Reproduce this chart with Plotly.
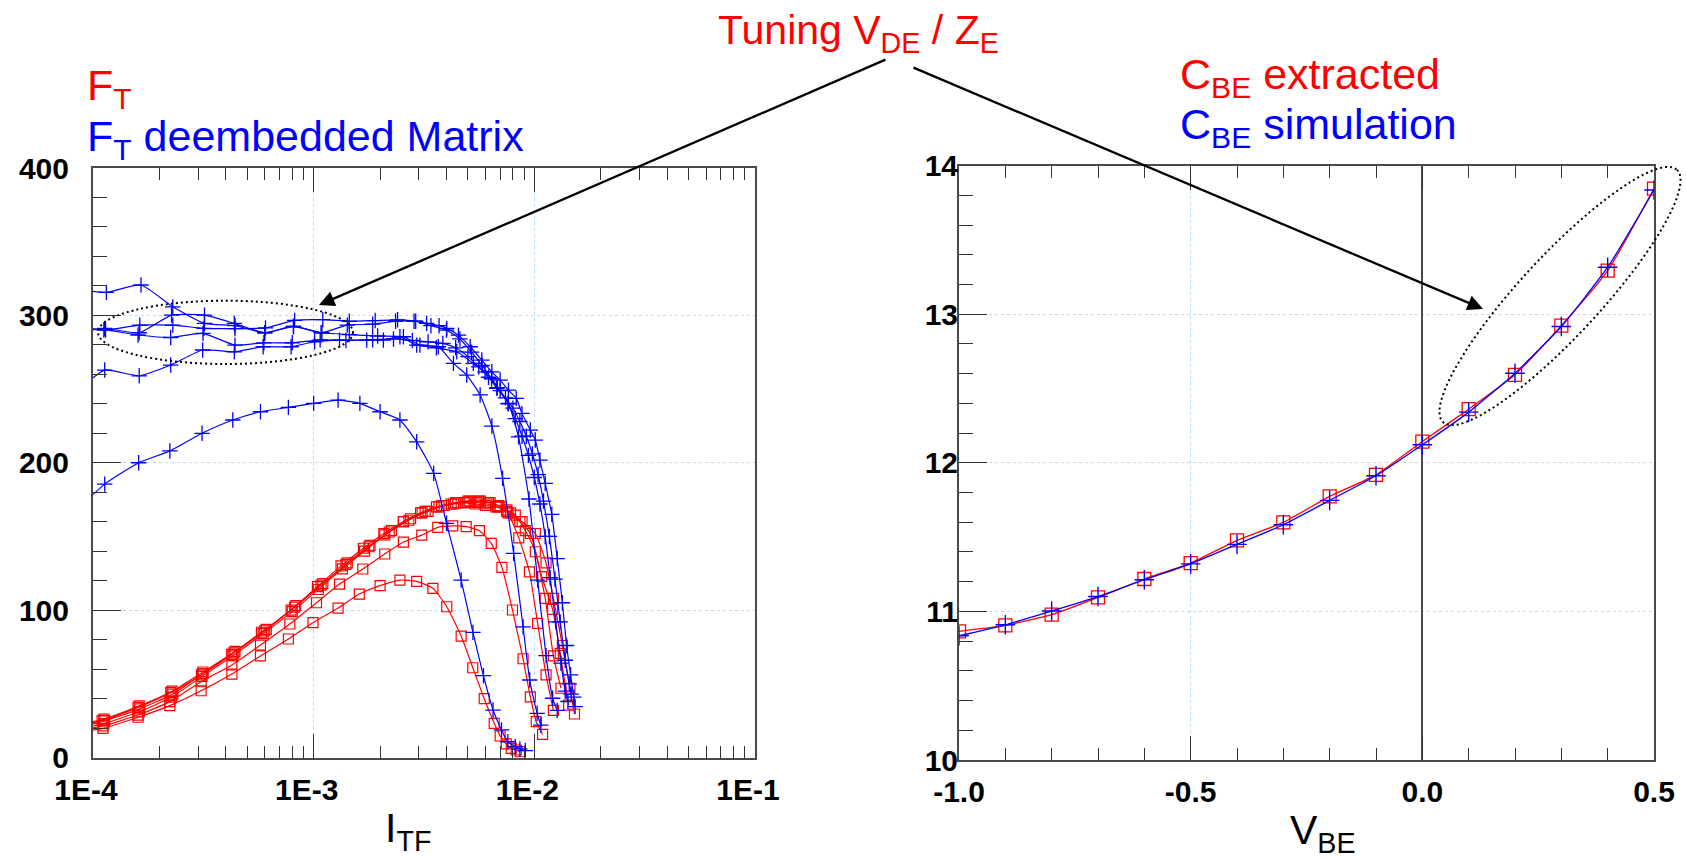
import numpy as np
import plotly.graph_objects as go

W, H = 1686, 858

# ---------------- Left panel: F_T vs I_TF ----------------
R1_I = [9.0e-5, 1.11e-4, 1.6e-4, 2.23e-4, 3.09e-4, 4.26e-4, 5.74e-4, 7.68e-4, 9.93e-4, 1.29e-3, 1.61e-3, 2.0e-3,
        2.46e-3, 2.93e-3, 3.47e-3, 4.01e-3, 4.66e-3, 5.26e-3, 5.93e-3, 6.58e-3, 7.0e-3, 7.46e-3, 7.86e-3, 8.28e-3, 8.63e-3]
R1_F = [17.5, 19.8, 27.3, 35.2, 45.3, 56.6, 68.9, 80.4, 91.5, 101.4, 110.9, 116.6,
        120.4, 119.5, 114.8, 102.3, 82.4, 60.9, 39.9, 23.2, 14.6, 9.2, 6.2, 5.1, 3.9]
R2_I = [9.0e-5, 1.11e-4, 1.6e-4, 2.23e-4, 3.09e-4, 4.26e-4, 5.74e-4, 7.8e-4, 1.03e-3, 1.31e-3, 1.67e-3, 2.1e-3,
        2.55e-3, 3.09e-3, 3.65e-3, 4.27e-3, 4.91e-3, 5.64e-3, 6.38e-3, 7.13e-3, 7.96e-3, 8.89e-3, 9.59e-3, 1.02e-2, 1.09e-2]
R2_F = [19, 21.4, 28.8, 37.9, 51.4, 62.8, 76.3, 90.6, 105, 117.7, 127.9, 138.1,
        146.2, 150.9, 156.2, 157.1, 156.6, 153.9, 145.3, 129, 100.1, 67, 41.2, 24.3, 15.7]
R3_I = [9.0e-5, 1.12e-4, 1.62e-4, 2.27e-4, 3.12e-4, 4.3e-4, 5.9e-4, 8.0e-4, 1.05e-3, 1.35e-3, 1.7e-3, 2.1e-3, 2.55e-3,
        3.05e-3, 3.6e-3, 4.2e-3, 4.8e-3, 5.4e-3, 6.0e-3, 6.7e-3, 7.5e-3, 8.5e-3, 9.5e-3, 1.035e-2, 1.13e-2, 1.22e-2]
R3_F = [20, 23, 31, 41, 55, 69, 84, 99, 114, 128, 140, 151, 160,
        166, 170, 172, 173, 172, 171, 170, 167, 149, 126, 91, 56, 32]
R4_I = [9.0e-5, 1.13e-4, 1.63e-4, 2.3e-4, 3.15e-4, 4.35e-4, 6.0e-4, 8.2e-4, 1.08e-3, 1.4e-3, 1.78e-3, 2.2e-3, 2.7e-3,
        3.2e-3, 3.8e-3, 4.4e-3, 5.0e-3, 5.6e-3, 6.2e-3, 6.9e-3, 7.5e-3, 8.2e-3, 9.1e-3, 1.01e-2, 1.12e-2, 1.22e-2, 1.32e-2]
R4_F = [21, 25, 33, 43, 57, 71, 86, 102, 117, 131, 143, 153, 161,
        167, 171, 173, 174, 174, 173, 171, 168, 164.5, 154, 139.6, 108, 68.9, 47]
R5_I = [9.0e-5, 1.1e-4, 1.6e-4, 2.25e-4, 3.1e-4, 4.25e-4, 5.8e-4, 7.9e-4, 1.04e-3, 1.33e-3, 1.68e-3, 2.08e-3, 2.55e-3,
        3.1e-3, 3.7e-3, 4.3e-3, 4.9e-3, 5.5e-3, 6.1e-3, 6.8e-3, 7.6e-3, 8.6e-3, 9.6e-3, 1.08e-2, 1.21e-2, 1.31e-2, 1.43e-2]
R5_F = [22, 25, 34, 44, 56, 70, 85, 100, 116, 130, 142, 152, 160,
        166, 170, 172, 173, 173, 172, 170, 166, 160, 152, 122.7, 100.5, 70.7, 35.6]
R6_I = [9.0e-5, 1.12e-4, 1.62e-4, 2.28e-4, 3.15e-4, 4.4e-4, 6.1e-4, 8.3e-4, 1.1e-3, 1.42e-3, 1.8e-3, 2.25e-3, 2.75e-3,
        3.3e-3, 3.9e-3, 4.5e-3, 5.1e-3, 5.7e-3, 6.3e-3, 7.0e-3, 7.8e-3, 8.8e-3, 1.01e-2, 1.13e-2, 1.22e-2, 1.34e-2, 1.45e-2, 1.52e-2]
R6_F = [23, 26, 35, 45, 58, 72, 87, 103, 118, 132, 144, 154, 162,
        167, 171, 173, 174, 174, 173, 170, 166, 160, 152, 132, 108, 76, 47, 29.5]

B1_I = [9.0e-5, 1.13e-4, 1.61e-4, 2.23e-4, 3.12e-4, 4.3e-4, 5.74e-4, 7.68e-4, 1.0e-3, 1.29e-3, 1.62e-3, 2.0e-3, 2.46e-3,
        2.93e-3, 3.5e-3, 4.0e-3, 4.66e-3, 5.27e-3, 5.88e-3, 6.5e-3, 7.1e-3, 7.58e-3, 8.2e-3, 8.6e-3, 9.1e-3]
B1_F = [172, 185.5, 200, 208, 220, 229, 234.6, 237.6, 240.3, 242.5, 240.3, 234.6, 229,
        214.2, 192.8, 158.9, 120.4, 84.9, 55.5, 32.2, 18.7, 10.7, 7.3, 5.8, 4.6]
B2_I = [9.0e-5, 1.15e-4, 1.65e-4, 2.3e-4, 3.2e-4, 4.4e-4, 6.0e-4, 8.1e-4, 1.09e-3, 1.45e-3, 1.95e-3, 2.55e-3, 3.03e-3,
        3.67e-3, 4.3e-3, 4.94e-3, 5.68e-3, 6.42e-3, 7.18e-3, 8.06e-3, 8.89e-3, 9.53e-3, 1.03e-2, 1.07e-2]
B2_F = [317, 315.6, 320.6, 305.8, 294.6, 293, 288.2, 292.3, 288.2, 287, 286, 285.5, 279.8,
        278.7, 267.4, 259.5, 246, 224.9, 189.4, 138.5, 88.7, 52.6, 30, 22]
B3_I = [9.0e-5, 1.13e-4, 1.62e-4, 2.25e-4, 3.14e-4, 4.37e-4, 5.9e-4, 7.9e-4, 1.01e-3, 1.31e-3, 1.74e-3, 2.07e-3, 2.46e-3,
        2.93e-3, 3.6e-3, 4.45e-3, 5.29e-3, 5.98e-3, 6.76e-3, 7.63e-3, 8.48e-3, 9.46e-3, 1.035e-2, 1.13e-2, 1.21e-2, 1.27e-2]
B3_F = [252, 262.9, 259, 266.3, 276.5, 275.3, 278.7, 278.7, 282.1, 283.2, 283.2, 283.2, 285.5,
        279.8, 278, 275.3, 267.4, 261.7, 250.5, 240.3, 217.6, 175.4, 120.4, 69.1, 40.2, 32]
B4_I = [9.0e-5, 1.12e-4, 1.63e-4, 2.3e-4, 3.18e-4, 4.4e-4, 6.05e-4, 8.2e-4, 1.1e-3, 1.45e-3, 1.9e-3, 2.4e-3, 2.9e-3,
        3.4e-3, 4.0e-3, 4.6e-3, 5.2e-3, 5.8e-3, 6.4e-3, 7.0e-3, 7.6e-3, 8.2e-3, 8.8e-3, 9.4e-3, 1.0e-2, 1.06e-2,
        1.12e-2, 1.18e-2, 1.25e-2, 1.32e-2, 1.38e-2, 1.42e-2]
B4_F = [292, 290.1, 293.4, 293.4, 291.2, 291, 291.5, 296.6, 297.1, 296, 296.5, 297, 296,
        293, 290, 284, 275, 266, 257, 249, 240, 230, 218, 205, 190, 172,
        150, 122, 92, 64, 45, 38]
B5_I = [9.0e-5, 1.13e-4, 1.62e-4, 2.27e-4, 3.2e-4, 4.37e-4, 6.0e-4, 8.1e-4, 1.08e-3, 1.42e-3, 1.85e-3, 2.35e-3, 2.85e-3,
        3.25e-3, 3.7e-3, 4.01e-3, 4.53e-3, 5.12e-3, 5.78e-3, 6.42e-3, 7.0e-3, 7.63e-3, 8.28e-3, 8.79e-3, 9.59e-3,
        1.01e-2, 1.06e-2, 1.12e-2, 1.2e-2, 1.27e-2, 1.34e-2, 1.4e-2, 1.46e-2, 1.51e-2, 1.53e-2]
B5_F = [289, 291.2, 288.2, 300.2, 300.2, 294.6, 288.2, 292.7, 288.2, 293.4, 294, 296, 296,
        294.6, 293, 291.2, 286.6, 278.7, 269.7, 261.7, 256.1, 249.3, 243.7, 233.5, 222.2,
        215.4, 201.8, 186, 165, 135, 105, 76, 56, 41, 34.5]
B6_I = [9.0e-5, 1.14e-4, 1.6e-4, 2.25e-4, 3.15e-4, 4.4e-4, 5.95e-4, 8.0e-4, 1.07e-3, 1.4e-3, 1.85e-3, 2.3e-3, 2.8e-3,
        3.3e-3, 3.85e-3, 4.4e-3, 5.0e-3, 5.6e-3, 6.2e-3, 6.8e-3, 7.4e-3, 8.0e-3, 8.6e-3, 9.2e-3, 9.8e-3, 1.04e-2,
        1.1e-2, 1.17e-2, 1.24e-2, 1.31e-2, 1.38e-2, 1.44e-2, 1.47e-2]
B6_F = [291, 290.1, 286.7, 285, 287.8, 279.8, 281.4, 281.4, 283.4, 283, 283.5, 284, 283,
        282, 281, 278, 272, 265, 258, 251, 244, 237, 228, 218, 206, 192,
        174, 150, 121, 92, 66, 50, 43]

RED_CURVES = [(R1_I, R1_F), (R2_I, R2_F), (R3_I, R3_F), (R4_I, R4_F), (R5_I, R5_F), (R6_I, R6_F)]
BLUE_CURVES = [(B1_I, B1_F), (B2_I, B2_F), (B3_I, B3_F), (B4_I, B4_F), (B5_I, B5_F), (B6_I, B6_F)]

LEFT_XTICKS = [1e-4, 1e-3, 1e-2, 1e-1]
LEFT_XTEXT = ["1E-4", "1E-3", "1E-2", "1E-1"]

# ---------------- Right panel: C_BE vs V_BE ----------------
VBE = [-1.0, -0.9, -0.8, -0.7, -0.6, -0.5, -0.4, -0.3, -0.2, -0.1, 0.0, 0.1, 0.2, 0.3, 0.4, 0.5]
CBE_EXTRACTED = [10.866, 10.906, 10.978, 11.094, 11.218, 11.325, 11.478, 11.599, 11.774, 11.919,
                 12.143, 12.361, 12.592, 12.923, 13.293, 13.845]
CBE_SIMULATION = [10.836, 10.91, 11.003, 11.10, 11.213, 11.32, 11.451, 11.583, 11.747, 11.913,
                  12.121, 12.341, 12.603, 12.917, 13.316, 13.836]
RIGHT_XTICKS = [-1.0, -0.5, 0.0, 0.5]
RIGHT_XTEXT = ["-1.0", "-0.5", "0.0", "0.5"]

RED = "#ff0000"
BLUE = "#0000ff"
FONT = "Liberation Sans, Arial, Helvetica, sans-serif"


def px(x):
    return x / W


def py(y):
    return 1 - y / H


fig = go.Figure()
for I, F in RED_CURVES:
    fig.add_trace(go.Scatter(
        x=I, y=F, xaxis="x", yaxis="y", mode="lines+markers",
        line=dict(color=RED, width=1.2, shape="spline", smoothing=0.5),
        marker=dict(symbol="square-open", size=10, color=RED, line=dict(width=1.2, color=RED)),
        showlegend=False, hoverinfo="skip"))
for I, F in BLUE_CURVES:
    fig.add_trace(go.Scatter(
        x=I, y=F, xaxis="x", yaxis="y", mode="lines+markers",
        line=dict(color=BLUE, width=1.2, shape="spline", smoothing=0.5),
        marker=dict(symbol="cross-thin", size=11, color=BLUE, line=dict(width=1.3, color=BLUE)),
        showlegend=False, hoverinfo="skip"))
fig.add_trace(go.Scatter(
    x=VBE, y=CBE_EXTRACTED, xaxis="x2", yaxis="y2", mode="lines+markers",
    line=dict(color=RED, width=1.3, shape="spline", smoothing=0.5),
    marker=dict(symbol="square-open", size=13, color=RED, line=dict(width=1.3, color=RED)),
    showlegend=False, hoverinfo="skip"))
fig.add_trace(go.Scatter(
    x=VBE, y=CBE_SIMULATION, xaxis="x2", yaxis="y2", mode="lines+markers",
    line=dict(color=BLUE, width=1.3, shape="spline", smoothing=0.5),
    marker=dict(symbol="cross-thin", size=14, color=BLUE, line=dict(width=1.4, color=BLUE)),
    showlegend=False, hoverinfo="skip"))

tickfont = dict(family=FONT, size=30, color="black", weight="bold")
common = dict(showline=True, linecolor="#4a4a4a", linewidth=2, ticks="inside",
              tickcolor="#333333", tickwidth=1.3, showgrid=True, gridcolor="#b8dcf3",
              gridwidth=1, griddash="dot", tickfont=tickfont)

fig.update_layout(
    width=W, height=H, margin=dict(l=0, r=0, t=0, b=0, autoexpand=False),
    paper_bgcolor="white", plot_bgcolor="white", showlegend=False,
    xaxis=dict(common, type="log", range=[-4, -1], domain=[px(93), px(755)], anchor="y",
               tickmode="array", tickvals=LEFT_XTICKS, ticktext=LEFT_XTEXT, ticklen=24,
               mirror="ticks", ticklabelshift=-7, ticklabelstandoff=4, zeroline=False,
               minor=dict(tickmode="linear", dtick="D1", ticks="inside", ticklen=12,
                          tickcolor="#333333", tickwidth=1.3, showgrid=False)),
    yaxis=dict(common, range=[0, 400], domain=[py(757.5), py(168)], anchor="x",
               tickmode="linear", tick0=0, dtick=100, ticklen=28, mirror=True,
               ticklabelstandoff=16, zeroline=False,
               minor=dict(tickmode="linear", tick0=0, dtick=20, ticks="inside", ticklen=14,
                          tickcolor="#333333", tickwidth=1.3, showgrid=False)),
    xaxis2=dict(common, range=[-1, 0.5], domain=[px(959), px(1654)], anchor="y2",
                tickmode="array", tickvals=RIGHT_XTICKS, ticktext=RIGHT_XTEXT, ticklen=24,
                mirror="ticks", ticklabelstandoff=4, zeroline=True, zerolinecolor="#4a4a4a",
                zerolinewidth=2,
                minor=dict(tickmode="linear", tick0=0, dtick=0.1, ticks="inside", ticklen=12,
                           tickcolor="#333333", tickwidth=1.3, showgrid=False)),
    yaxis2=dict(common, range=[10, 14], domain=[py(760), py(165.6)], anchor="x2",
                tickmode="linear", tick0=10, dtick=1, ticklen=28, mirror=True,
                ticklabelstandoff=-7, zeroline=False,
                minor=dict(tickmode="linear", tick0=10, dtick=0.2, ticks="inside", ticklen=14,
                           tickcolor="#333333", tickwidth=1.3, showgrid=False)),
)


def label(text, x, ytop, color, size=41, xanchor="left"):
    fig.add_annotation(text=text, xref="paper", yref="paper", x=px(x), y=py(ytop),
                       xanchor=xanchor, yanchor="top", showarrow=False,
                       font=dict(family=FONT, size=size, color=color))


label("Tuning V<sub>DE</sub> / Z<sub>E</sub>", 716, 5, RED)
label("F<sub>T</sub>", 85, 59, RED, size=43)
label("F<sub>T</sub> deembedded Matrix", 85, 110, BLUE, size=43)
label("C<sub>BE</sub> extracted", 1178, 48, RED, size=43)
label("C<sub>BE</sub> simulation", 1178, 98, BLUE, size=43)
label("I<sub>TF</sub>", 408, 803, "black", xanchor="center")
label("V<sub>BE</sub>", 1323, 805, "black", xanchor="center")

for tip, tail in [((319, 305), (887, 59)), ((1483, 309), (912, 67))]:
    fig.add_annotation(text="", xref="paper", yref="paper", x=px(tip[0]), y=py(tip[1]),
                       ax=tail[0] - tip[0], ay=tail[1] - tip[1], showarrow=True,
                       arrowhead=2, arrowsize=1.35, arrowwidth=2.3, arrowcolor="black", standoff=0)

fig.add_shape(type="circle", xref="paper", yref="paper",
              x0=px(98), x1=px(353), y0=py(364), y1=py(300.7),
              line=dict(color="black", width=2, dash="2px,3px"))

cx, cy, a, b = 1560.0, 296.0, 172.0, 40.0
u = np.array([0.680, -0.734])
n = np.array([0.734, 0.680])
t = np.linspace(0, 2 * np.pi, 90)
pts = [(cx + a * np.cos(tt) * u[0] + b * np.sin(tt) * n[0],
        cy + a * np.cos(tt) * u[1] + b * np.sin(tt) * n[1]) for tt in t]
path = "M " + " L ".join(f"{px(x):.5f},{py(y):.5f}" for x, y in pts) + " Z"
fig.add_shape(type="path", xref="paper", yref="paper", path=path,
              line=dict(color="black", width=2, dash="2px,3px"))

fig.write_html("out.html")
